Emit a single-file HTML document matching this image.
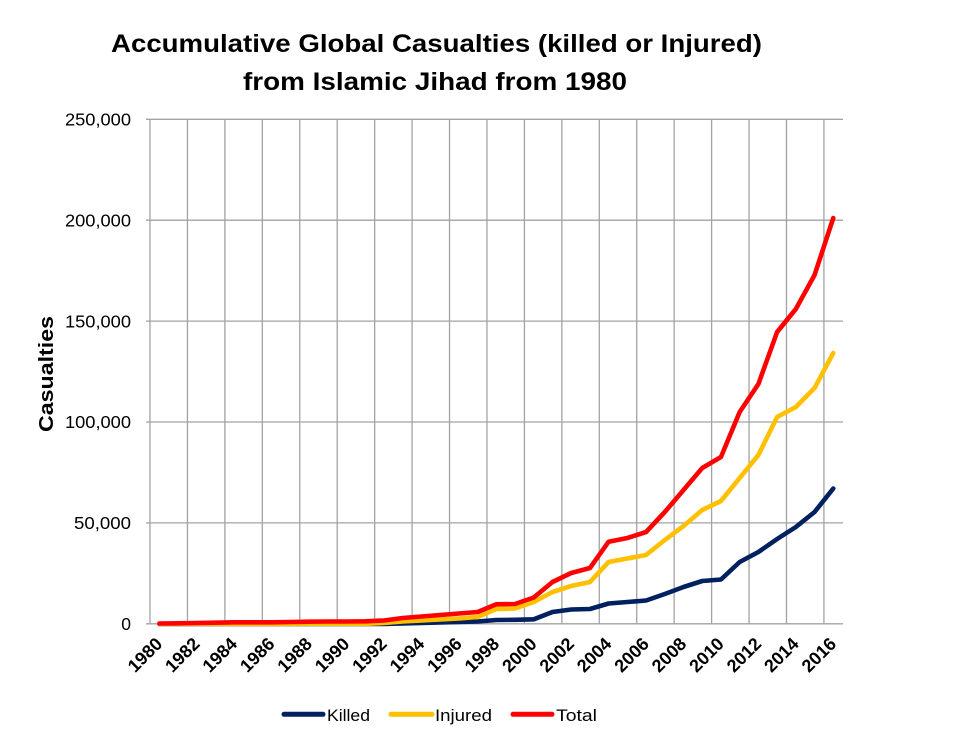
<!DOCTYPE html>
<html>
<head>
<meta charset="utf-8">
<style>
html,body{margin:0;padding:0;background:#fff;}
svg{display:block;}
text{font-family:"Liberation Sans",Arial,sans-serif;fill:#000;}
</style>
</head>
<body>
<svg width="958" height="747" viewBox="0 0 958 747" xmlns="http://www.w3.org/2000/svg">
<rect x="0" y="0" width="958" height="747" fill="#fff"/>

<!-- Title -->
<text x="111" y="52" font-size="25" font-weight="bold" textLength="651" lengthAdjust="spacingAndGlyphs">Accumulative Global Casualties (killed or Injured)</text>
<text x="243" y="90" font-size="25" font-weight="bold" textLength="384" lengthAdjust="spacingAndGlyphs">from Islamic Jihad from 1980</text>

<!-- Gridlines -->
<g stroke="#a3a3a3" stroke-width="1.3" fill="none">
<line x1="146" y1="119.3" x2="843" y2="119.3"/>
<line x1="146" y1="220.2" x2="843" y2="220.2"/>
<line x1="146" y1="321.1" x2="843" y2="321.1"/>
<line x1="146" y1="422" x2="843" y2="422"/>
<line x1="146" y1="522.9" x2="843" y2="522.9"/>
<line x1="146" y1="623.8" x2="843" y2="623.8"/>
<line x1="150" y1="119.3" x2="150" y2="623.8"/>
<line x1="187.44" y1="119.3" x2="187.44" y2="623.8"/>
<line x1="224.88" y1="119.3" x2="224.88" y2="623.8"/>
<line x1="262.32" y1="119.3" x2="262.32" y2="623.8"/>
<line x1="299.76" y1="119.3" x2="299.76" y2="623.8"/>
<line x1="337.2" y1="119.3" x2="337.2" y2="623.8"/>
<line x1="374.64" y1="119.3" x2="374.64" y2="623.8"/>
<line x1="412.08" y1="119.3" x2="412.08" y2="623.8"/>
<line x1="449.52" y1="119.3" x2="449.52" y2="623.8"/>
<line x1="486.96" y1="119.3" x2="486.96" y2="623.8"/>
<line x1="524.4" y1="119.3" x2="524.4" y2="623.8"/>
<line x1="561.84" y1="119.3" x2="561.84" y2="623.8"/>
<line x1="599.28" y1="119.3" x2="599.28" y2="623.8"/>
<line x1="636.72" y1="119.3" x2="636.72" y2="623.8"/>
<line x1="674.16" y1="119.3" x2="674.16" y2="623.8"/>
<line x1="711.6" y1="119.3" x2="711.6" y2="623.8"/>
<line x1="749.04" y1="119.3" x2="749.04" y2="623.8"/>
<line x1="786.48" y1="119.3" x2="786.48" y2="623.8"/>
<line x1="823.92" y1="119.3" x2="823.92" y2="623.8"/>
</g>

<!-- Y axis labels -->
<g font-size="17.5" text-anchor="end">
<text x="131" y="125.5" textLength="66" lengthAdjust="spacingAndGlyphs">250,000</text>
<text x="131" y="226.4" textLength="66" lengthAdjust="spacingAndGlyphs">200,000</text>
<text x="131" y="327.3" textLength="66" lengthAdjust="spacingAndGlyphs">150,000</text>
<text x="131" y="428.2" textLength="66" lengthAdjust="spacingAndGlyphs">100,000</text>
<text x="131" y="529.1" textLength="57" lengthAdjust="spacingAndGlyphs">50,000</text>
<text x="131" y="630">0</text>
</g>

<!-- Y axis title -->
<text transform="translate(53,374) rotate(-90)" text-anchor="middle" font-size="20" font-weight="bold" textLength="116" lengthAdjust="spacingAndGlyphs">Casualties</text>

<!-- X axis labels -->
<g font-size="18" font-weight="bold" text-anchor="end">
<text transform="translate(163.4,645) rotate(-45)">1980</text>
<text transform="translate(200.8,645) rotate(-45)">1982</text>
<text transform="translate(238.2,645) rotate(-45)">1984</text>
<text transform="translate(275.7,645) rotate(-45)">1986</text>
<text transform="translate(313.1,645) rotate(-45)">1988</text>
<text transform="translate(350.6,645) rotate(-45)">1990</text>
<text transform="translate(388,645) rotate(-45)">1992</text>
<text transform="translate(425.4,645) rotate(-45)">1994</text>
<text transform="translate(462.9,645) rotate(-45)">1996</text>
<text transform="translate(500.3,645) rotate(-45)">1998</text>
<text transform="translate(537.8,645) rotate(-45)">2000</text>
<text transform="translate(575.2,645) rotate(-45)">2002</text>
<text transform="translate(612.6,645) rotate(-45)">2004</text>
<text transform="translate(650.1,645) rotate(-45)">2006</text>
<text transform="translate(687.5,645) rotate(-45)">2008</text>
<text transform="translate(725,645) rotate(-45)">2010</text>
<text transform="translate(762.4,645) rotate(-45)">2012</text>
<text transform="translate(799.8,645) rotate(-45)">2014</text>
<text transform="translate(837.3,645) rotate(-45)">2016</text>
</g>

<!-- Series -->
<g fill="none" stroke-width="4.6" stroke-linejoin="round" stroke-linecap="round">
<polyline stroke="#002060" points="159.36,624 178.08,624 196.80,624 215.52,624 234.24,624 252.96,624 271.68,624 290.40,624 309.12,624 327.84,624 346.56,624 365.28,624 384.00,624 402.72,623.5 421.44,623 440.16,622.5 458.88,622 477.60,621.5 496.32,620 515.04,619.8 533.76,619.3 552.48,612 571.20,609.5 589.92,609 608.64,603.5 627.36,602 646.08,600.5 664.80,594 683.52,587 702.24,581 720.96,579.5 739.68,562 758.40,552 777.12,539 795.84,527 814.56,512 833.28,488.5"/>
<polyline stroke="#FFC000" points="159.36,623.8 178.08,623.8 196.80,623.8 215.52,623.8 234.24,623.8 252.96,623.8 271.68,623.8 290.40,623.8 309.12,623.8 327.84,623.8 346.56,623.8 365.28,623.8 384.00,623 402.72,621.5 421.44,620.5 440.16,619.5 458.88,618.5 477.60,617 496.32,609 515.04,608.5 533.76,602 552.48,592 571.20,586 589.92,582 608.64,562 627.36,558.5 646.08,555 664.80,540 683.52,526 702.24,510 720.96,501 739.68,478 758.40,455 777.12,417 795.84,407 814.56,388 833.28,353"/>
<polyline stroke="#FF0000" points="159.36,623.5 178.08,623.3 196.80,623 215.52,622.7 234.24,622.3 252.96,622.3 271.68,622.3 290.40,622 309.12,621.7 327.84,621.5 346.56,621.5 365.28,621.3 384.00,620.5 402.72,618 421.44,616.5 440.16,615 458.88,613.5 477.60,612 496.32,604.3 515.04,604 533.76,597.5 552.48,582 571.20,573 589.92,568 608.64,541.7 627.36,538 646.08,532 664.80,512 683.52,490 702.24,468 720.96,457 739.68,412 758.40,384 777.12,332 795.84,309 814.56,275 833.28,218"/>
</g>

<!-- Legend -->
<g stroke-width="5" stroke-linecap="round">
<line x1="284" y1="714.3" x2="323" y2="714.3" stroke="#002060"/>
<line x1="391" y1="714.3" x2="432" y2="714.3" stroke="#FFC000"/>
<line x1="513" y1="714.3" x2="552" y2="714.3" stroke="#FF0000"/>
</g>
<g font-size="17">
<text x="327" y="721" textLength="43" lengthAdjust="spacingAndGlyphs">Killed</text>
<text x="435" y="721" textLength="57" lengthAdjust="spacingAndGlyphs">Injured</text>
<text x="556" y="721" textLength="41" lengthAdjust="spacingAndGlyphs">Total</text>
</g>
</svg>
</body>
</html>
